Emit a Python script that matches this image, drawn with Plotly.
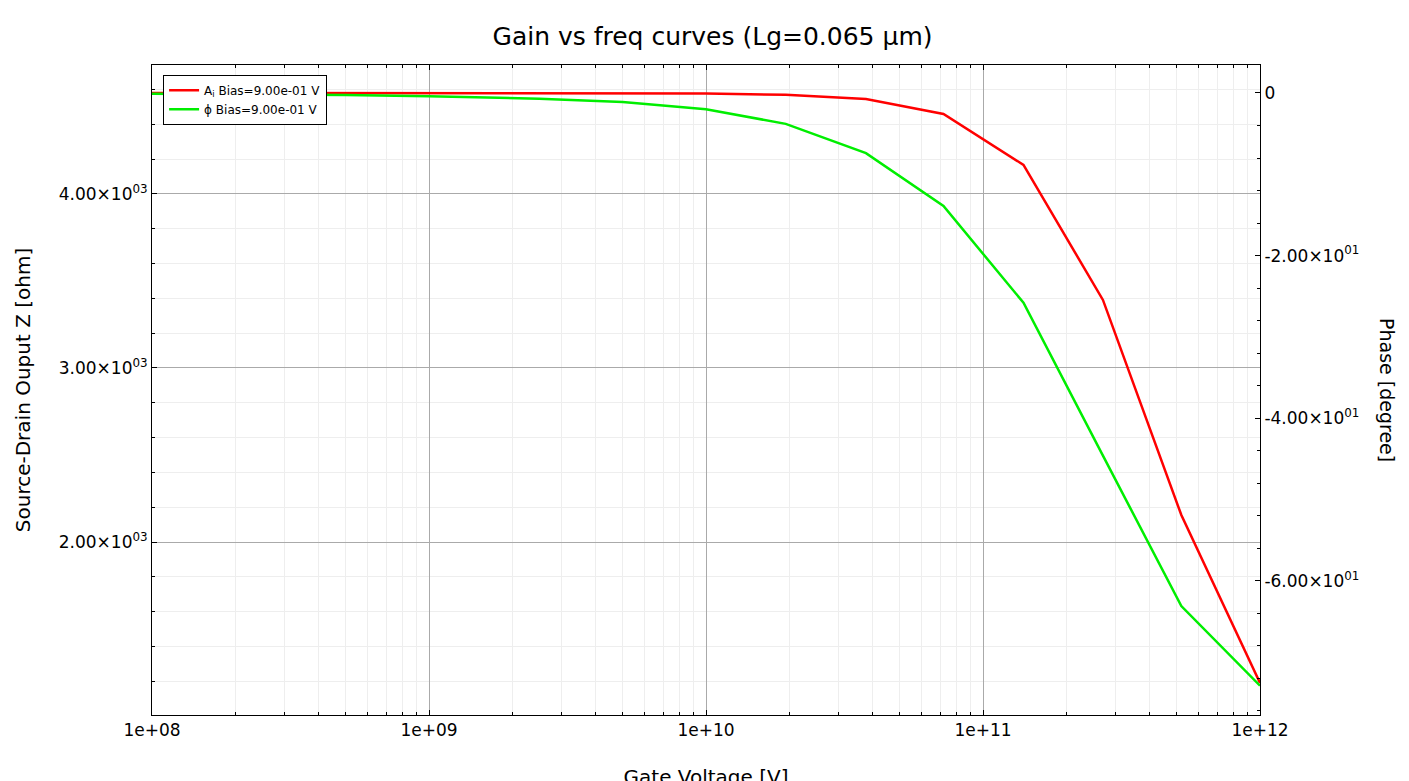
import plotly.graph_objects as go

freq = [1e8, 2.5e8, 5e8, 1e9, 2.5e9, 5e9, 1e10, 1.94e10, 3.78e10, 7.2e10, 1.4e11, 2.71e11, 5.2e11, 1e12]
gain = [4580, 4580, 4580, 4580, 4580, 4579, 4577, 4570, 4546, 4460, 4167, 3391, 2155, 1190]
phase = [-0.1, -0.15, -0.25, -0.4, -0.7, -1.1, -2.0, -3.8, -7.4, -13.9, -25.8, -44.6, -63.1, -72.9]

xt = [1e8, 1e9, 1e10, 1e11, 1e12]
xl = ["1e+08", "1e+09", "1e+10", "1e+11", "1e+12"]
yt = [2000, 3000, 4000]
yl = ["2.00×10<sup>03</sup>", "3.00×10<sup>03</sup>", "4.00×10<sup>03</sup>"]
pt = [-60, -40, -20, 0]
pl = ["-6.00×10<sup>01</sup>", "-4.00×10<sup>01</sup>", "-2.00×10<sup>01</sup>", "0"]

fig = go.Figure()
fig.add_trace(go.Scatter(x=freq, y=gain, mode="lines", line=dict(color="#ff0000", width=2.5),
                         name="A<sub>i</sub> Bias=9.00e-01 V"))
fig.add_trace(go.Scatter(x=freq, y=phase, mode="lines", line=dict(color="#00ee00", width=2.5),
                         name="ϕ Bias=9.00e-01 V", yaxis="y2"))
ax = dict(showline=True, linecolor="black", linewidth=1, ticks="inside", tickcolor="black",
          gridcolor="#aaaaaa", zeroline=False, automargin=False)
fig.update_layout(
    width=1409, height=781, paper_bgcolor="white", plot_bgcolor="white",
    font=dict(family="DejaVu Sans", size=17, color="black"),
    title=dict(text="Gain vs freq curves (Lg=0.065 μm)", x=0.5, y=0.975, font=dict(size=25)),
    margin=dict(l=144, r=157, t=57, b=74),
    xaxis=dict(type="log", range=[8, 12], tickvals=xt, ticktext=xl, mirror="ticks",
               title=dict(text="Gate Voltage [V]", standoff=30),
               minor=dict(dtick="D1", showgrid=True, gridcolor="#eeeeee", ticks="inside", tickcolor="black", ticklen=3), **ax),
    yaxis=dict(range=[1006, 4741], tickvals=yt, ticktext=yl,
               title=dict(text="Source-Drain Ouput Z [ohm]", standoff=22),
               minor=dict(dtick=200, tick0=0, showgrid=True, gridcolor="#eeeeee", ticks="inside", tickcolor="black", ticklen=3), **ax),
    yaxis2=dict(overlaying="y", side="right", range=[-76.5, 3.44], tickvals=pt, ticktext=pl,
                showgrid=False, automargin=False,
                minor=dict(dtick=4, tick0=0, ticks="inside", tickcolor="black", ticklen=3),
                showline=True, linecolor="black", ticks="inside", tickcolor="black", zeroline=False),
    annotations=[dict(text="Phase [degree]", textangle=90, xref="paper", yref="paper",
                      x=1.0, xshift=140, y=0.5, showarrow=False, font=dict(size=19))],
    legend=dict(x=0.01, y=0.985, xanchor="left", yanchor="top", bgcolor="white",
                bordercolor="black", borderwidth=1, font=dict(size=12)),
    showlegend=True,
)
fig.write_html("out.html")
